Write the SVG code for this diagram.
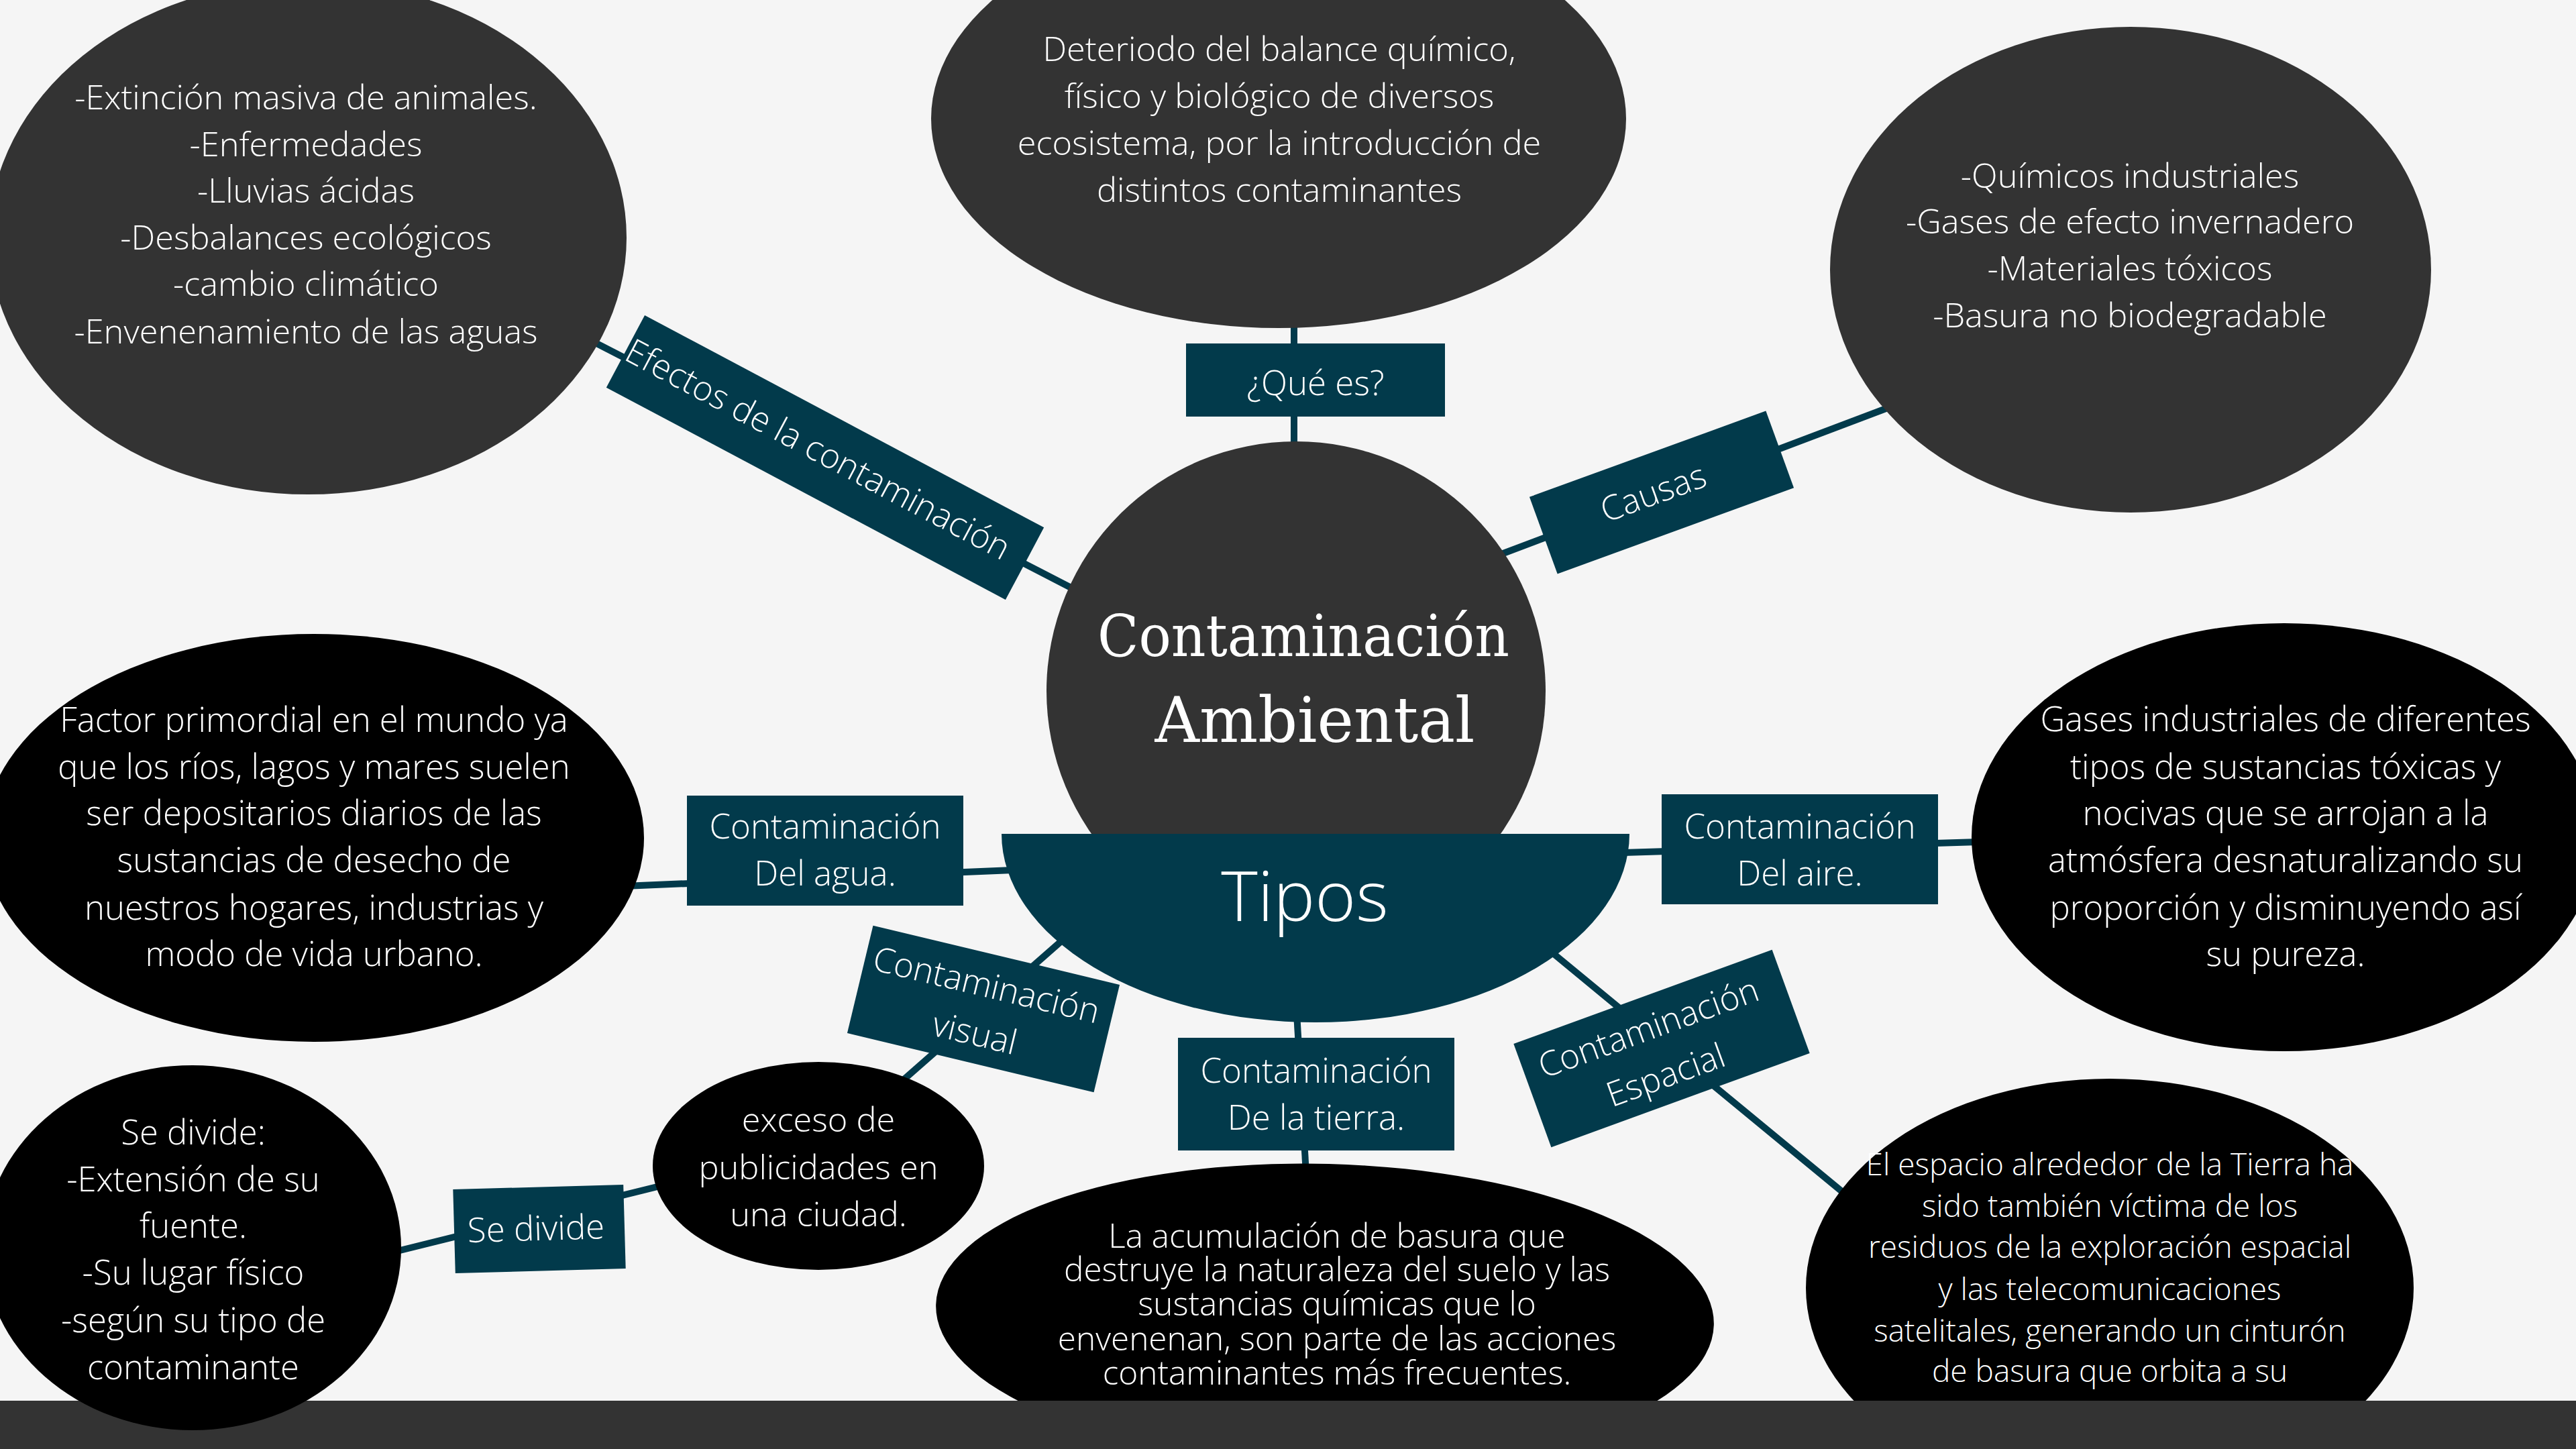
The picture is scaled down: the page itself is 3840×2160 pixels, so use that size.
<svg xmlns="http://www.w3.org/2000/svg" width="3840" height="2160" viewBox="0 0 3840 2160">
<style>
.bg{fill:#f5f5f5}
.gray{fill:#333333}
.blk{fill:#000000}
.teal{fill:#023a4b}
.con{stroke:#023a4b;stroke-width:10;fill:none}
.t{font-family:"Open Sans","Noto Sans","Liberation Sans",sans-serif;font-weight:300;fill:#ffffff;text-anchor:middle}
.lab{font-size:51px}
.e50{font-size:50.5px}
.e51{font-size:50.8px}
.e49{font-size:49.5px}
.e46{font-size:46px}
.title{font-family:"DejaVu Serif","Liberation Serif",serif;fill:#ffffff;text-anchor:middle}
</style>
<rect class="bg" x="0" y="0" width="3840" height="2160"/>

<g id="connectors">
<line class="con" x1="1929" y1="480" x2="1929" y2="670"/>
<line class="con" x1="2230" y1="829" x2="2830" y2="602"/>
<line class="con" x1="870" y1="502" x2="1610" y2="883"/>
<line class="con" x1="930" y1="1321" x2="1510" y2="1297"/>
<line class="con" x1="2420" y1="1271" x2="2950" y2="1255"/>
<line class="con" x1="1590" y1="1396" x2="1335" y2="1620"/>
<line class="con" x1="1933" y1="1510" x2="1947" y2="1750"/>
<line class="con" x1="2315" y1="1421" x2="2765" y2="1792"/>
<line class="con" x1="580" y1="1868" x2="1000" y2="1764"/>
</g>

<g id="node-efectos-ellipse">
<ellipse class="gray" cx="459" cy="354" rx="475" ry="383"/>
<text class="t e50"><tspan x="456" y="163">-Extinción masiva de animales.</tspan><tspan x="456" y="233">-Enfermedades</tspan><tspan x="456" y="302">-Lluvias ácidas</tspan><tspan x="456" y="372">-Desbalances ecológicos</tspan><tspan x="456" y="441">-cambio climático</tspan><tspan x="456" y="512">-Envenenamiento de las aguas</tspan></text>
</g>

<g id="node-que-es-ellipse">
<ellipse class="gray" cx="1906" cy="177" rx="518" ry="312"/>
<text class="t e50"><tspan x="1907" y="91">Deteriodo del balance químico,</tspan><tspan x="1907" y="161">físico y biológico de diversos</tspan><tspan x="1907" y="231">ecosistema, por la introducción de</tspan><tspan x="1907" y="301">distintos contaminantes</tspan></text>
</g>

<g id="node-causas-ellipse">
<ellipse class="gray" cx="3176" cy="402" rx="448" ry="362"/>
<text class="t e50"><tspan x="3175" y="280">-Químicos industriales</tspan><tspan x="3175" y="348">-Gases de efecto invernadero</tspan><tspan x="3175" y="418">-Materiales tóxicos</tspan><tspan x="3175" y="488">-Basura no biodegradable</tspan></text>
</g>

<g id="node-que-es">
<rect class="teal" x="1768" y="512" width="386" height="109"/>
<text class="t lab" x="1961" y="589">¿Qué es?</text>
</g>

<g id="node-efectos">
<g transform="translate(1230,682) rotate(28)">
<rect class="teal" x="-337" y="-61" width="674" height="122"/>
<text class="t lab" x="-15" y="12">Efectos de la contaminación</text>
</g>
</g>

<g id="node-causas">
<g transform="translate(2477,734) rotate(-20)">
<rect class="teal" x="-187.5" y="-61" width="375" height="122"/>
<text class="t lab" x="-12" y="14">Causas</text>
</g>
</g>

<g id="node-center">
<circle class="gray" cx="1932" cy="1030" r="372"/>
<text class="title" x="1943" y="978" font-size="86" textLength="614" lengthAdjust="spacingAndGlyphs">Contaminación</text>
<text class="title" x="1960" y="1106" font-size="94" textLength="477" lengthAdjust="spacingAndGlyphs">Ambiental</text>
</g>

<g id="node-tipos">
<path class="teal" d="M1493 1243 L2429 1243 A468 281 0 0 1 1493 1243 Z"/>
<text class="t" x="1945" y="1373" font-size="104">Tipos</text>
</g>

<g id="node-agua-ellipse">
<ellipse class="blk" cx="468" cy="1249" rx="492" ry="304"/>
<text class="t e51"><tspan x="468" y="1091">Factor primordial en el mundo ya</tspan><tspan x="468" y="1161">que los ríos, lagos y mares suelen</tspan><tspan x="468" y="1230">ser depositarios diarios de las</tspan><tspan x="468" y="1300">sustancias de desecho de</tspan><tspan x="468" y="1371">nuestros hogares, industrias y</tspan><tspan x="468" y="1440">modo de vida urbano.</tspan></text>
</g>

<g id="node-agua">
<rect class="teal" x="1024" y="1186" width="412" height="164"/>
<text class="t lab"><tspan x="1230" y="1250">Contaminación</tspan><tspan x="1230" y="1320">Del agua.</tspan></text>
</g>

<g id="node-aire">
<rect class="teal" x="2477" y="1184" width="412" height="164"/>
<text class="t lab"><tspan x="2683" y="1250">Contaminación</tspan><tspan x="2683" y="1320">Del aire.</tspan></text>
</g>

<g id="node-aire-ellipse">
<ellipse class="blk" cx="3405" cy="1248" rx="466" ry="319"/>
<text class="t e51"><tspan x="3407" y="1090">Gases industriales de diferentes</tspan><tspan x="3407" y="1161">tipos de sustancias tóxicas y</tspan><tspan x="3407" y="1230">nocivas que se arrojan a la</tspan><tspan x="3407" y="1300">atmósfera desnaturalizando su</tspan><tspan x="3407" y="1371">proporción y disminuyendo así</tspan><tspan x="3407" y="1440">su pureza.</tspan></text>
</g>

<g id="node-visual">
<g transform="translate(1466,1504) rotate(13.5)">
<rect class="teal" x="-189" y="-82.5" width="378" height="165"/>
<text class="t lab"><tspan x="-4" y="-18">Contaminación</tspan><tspan x="-4" y="56">visual</tspan></text>
</g>
</g>

<g id="node-exceso-ellipse">
<ellipse class="blk" cx="1220" cy="1738" rx="247" ry="155"/>
<text class="t e50"><tspan x="1220" y="1687">exceso de</tspan><tspan x="1220" y="1758">publicidades en</tspan><tspan x="1220" y="1828">una ciudad.</tspan></text>
</g>

<g id="node-se-divide">
<g transform="translate(804,1832) rotate(-1.6)">
<rect class="teal" x="-127" y="-62.5" width="254" height="125"/>
<text class="t lab" x="-5" y="17">Se divide</text>
</g>
</g>

<g id="node-tierra">
<rect class="teal" x="1756" y="1547" width="412" height="168"/>
<text class="t lab"><tspan x="1962" y="1614">Contaminación</tspan><tspan x="1962" y="1684">De la tierra.</tspan></text>
</g>

<g id="node-espacial">
<g transform="translate(2477,1563) rotate(-20)">
<rect class="teal" x="-205" y="-82" width="410" height="164"/>
<text class="t lab"><tspan x="-8" y="-18">Contaminación</tspan><tspan x="-8" y="57">Espacial</tspan></text>
</g>
</g>

<g id="node-tierra-ellipse">
<ellipse class="blk" cx="1975" cy="1960" rx="580" ry="225" transform="rotate(1.5 1975 1960)"/>
<text class="t e49"><tspan x="1993" y="1860">La acumulación de basura que</tspan><tspan x="1993" y="1910">destruye la naturaleza del suelo y las</tspan><tspan x="1993" y="1961">sustancias químicas que lo</tspan><tspan x="1993" y="2013">envenenan, son parte de las acciones</tspan><tspan x="1993" y="2064">contaminantes más frecuentes.</tspan></text>
</g>

<g id="node-espacial-ellipse">
<ellipse class="blk" cx="3145" cy="1920" rx="453" ry="312"/>
<text class="t e46"><tspan x="3145" y="1752">El espacio alrededor de la Tierra ha</tspan><tspan x="3145" y="1814">sido también víctima de los</tspan><tspan x="3145" y="1875">residuos de la exploración espacial</tspan><tspan x="3145" y="1938">y las telecomunicaciones</tspan><tspan x="3145" y="2000">satelitales, generando un cinturón</tspan><tspan x="3145" y="2060">de basura que orbita a su</tspan></text>
</g>

<rect id="bottom-bar" class="gray" x="0" y="2088" width="3840" height="72"/>

<g id="node-divide-ellipse">
<ellipse class="blk" cx="287" cy="1860" rx="311" ry="272"/>
<text class="t e51"><tspan x="288" y="1706">Se divide:</tspan><tspan x="288" y="1776">-Extensión de su</tspan><tspan x="288" y="1845">fuente.</tspan><tspan x="288" y="1915">-Su lugar físico</tspan><tspan x="288" y="1986">-según su tipo de</tspan><tspan x="288" y="2056">contaminante</tspan></text>
</g>
</svg>
